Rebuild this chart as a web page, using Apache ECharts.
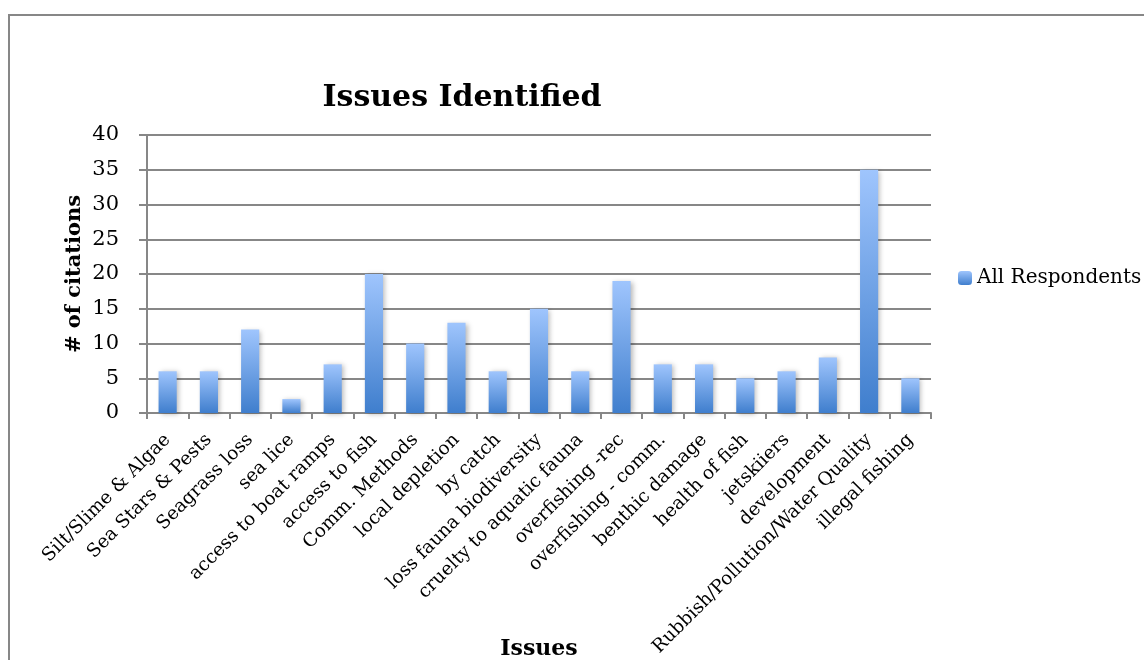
<!DOCTYPE html>
<html>
<head>
<meta charset="utf-8">
<script src="https://cdn.jsdelivr.net/npm/echarts@6/dist/echarts.min.js"></script>
<style>
  html, body { margin: 0; padding: 0; background: #ffffff; }
  #chart { width: 1144px; height: 660px; }
</style>
</head>
<body>
<div id="chart"></div>
<script>
// Issues raised by respondents and how often each was cited
const categories = [
  'Silt/Slime & Algae', 'Sea Stars & Pests', 'Seagrass loss', 'sea lice',
  'access to boat ramps', 'access to fish', 'Comm. Methods', 'local depletion',
  'by catch', 'loss fauna biodiversity', 'cruelty to aquatic fauna',
  'overfishing -rec', 'overfishing - comm.', 'benthic damage', 'health of fish',
  'jetskiiers', 'development', 'Rubbish/Pollution/Water Quality', 'illegal fishing'
];
const allRespondents = [6, 6, 12, 2, 7, 20, 10, 13, 6, 15, 6, 19, 7, 7, 5, 6, 8, 35, 5];
const yTicks = [0, 5, 10, 15, 20, 25, 30, 35, 40];

const serif = '"DejaVu Serif", "Liberation Serif", serif';
const axisGray = '#878787';

const barFill = new echarts.graphic.LinearGradient(0, 0, 0, 1, [
  { offset: 0, color: '#9fc5fd' },
  { offset: 1, color: '#3f7ecd' }
]);

const chart = echarts.init(document.getElementById('chart'), null, { renderer: 'canvas' });
chart.setOption({
  animation: false,
  backgroundColor: '#ffffff',
  graphic: [{
    type: 'rect',
    silent: true,
    shape: { x: 9, y: 15, width: 1200, height: 700 },
    style: { fill: 'none', stroke: '#878787', lineWidth: 2 }
  }],
  title: {
    text: 'Issues Identified',
    left: 457,
    textAlign: 'center',
    top: 78,
    textStyle: { fontFamily: serif, fontWeight: 'bold', fontSize: 30, color: '#000' }
  },
  legend: {
    data: ['All Respondents'],
    left: 953,
    top: 263,
    itemWidth: 14,
    itemHeight: 14,
    itemGap: 6,
    textStyle: { fontFamily: serif, fontSize: 20, color: '#000' }
  },
  grid: {
    left: 147, right: 213, top: 135, bottom: 247,
    containLabel: false,
    outerBoundsMode: 'none'
  },
  xAxis: {
    type: 'category',
    data: categories,
    name: 'Issues',
    nameLocation: 'middle',
    nameGap: 225,
    nameMoveOverlap: false,
    nameTextStyle: { fontFamily: serif, fontWeight: 'bold', fontSize: 22, color: '#000' },
    axisLine: { lineStyle: { color: axisGray, width: 2 } },
    axisTick: { show: true, length: 6, lineStyle: { color: axisGray, width: 2 } },
    axisLabel: {
      interval: 0,
      rotate: 45,
      margin: 24,
      fontFamily: serif,
      fontSize: 18.5,
      color: '#000'
    }
  },
  yAxis: {
    type: 'value',
    min: 0,
    max: 40,
    interval: 5,
    name: '# of citations',
    nameLocation: 'middle',
    nameGap: 62,
    nameMoveOverlap: false,
    nameRotate: 90,
    nameTextStyle: { fontFamily: serif, fontWeight: 'bold', fontSize: 21, color: '#000' },
    axisLine: { show: true, lineStyle: { color: axisGray, width: 2 } },
    axisTick: { show: true, length: 8, lineStyle: { color: axisGray, width: 2 } },
    axisLabel: {
      margin: 28,
      fontFamily: serif,
      fontSize: 21,
      color: '#000',
      formatter: v => (yTicks.includes(v) ? String(v) : '')
    },
    splitLine: { show: true, lineStyle: { color: axisGray, width: 2 } }
  },
  series: [{
    name: 'All Respondents',
    type: 'bar',
    data: allRespondents,
    barWidth: '44%',
    itemStyle: {
      color: barFill,
      shadowColor: 'rgba(0,0,0,0.28)',
      shadowBlur: 5,
      shadowOffsetX: 2,
      shadowOffsetY: 1
    }
  }]
});
</script>
</body>
</html>
